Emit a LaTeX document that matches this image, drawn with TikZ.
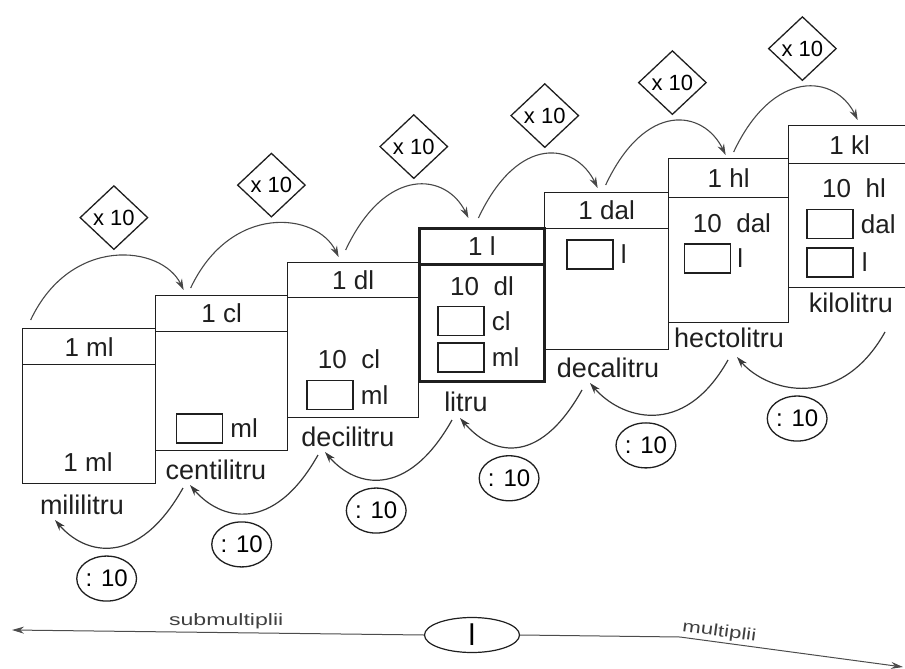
\documentclass[tikz,border=0pt]{standalone}
\usepackage{fontspec}
\setmainfont{Liberation Sans}
\usetikzlibrary{positioning,arrows.meta,shapes.geometric}
\colorlet{ink}{black!88}

\begin{document}
\begin{tikzpicture}[
    x=1pt, y=-1pt, % y grows downwards, as on the page
    unitbox/.style={draw=ink, line width=1.3pt, anchor=north west, inner sep=0pt},
    headbox/.style={unitbox, font=\fontsize{26}{30}\selectfont, text=ink},
    litbox/.style={line width=2.8pt},
    valtext/.style={font=\fontsize{26}{30}\selectfont, text=ink, inner sep=1pt},
    blankbox/.style={draw=ink, line width=1.3pt, minimum width=46pt, minimum height=29pt, inner sep=0pt},
    uname/.style={font=\fontsize{27}{30}\selectfont, text=ink, inner sep=2pt},
    timesbox/.style={diamond, draw=ink, line width=1.3pt, minimum width=68pt, minimum height=64pt, inner sep=0pt, fill=white, font=\fontsize{22}{26}\selectfont},
    divcirc/.style={ellipse, draw=ink, line width=1.3pt, minimum width=50pt, minimum height=45pt, inner sep=0pt, font=\fontsize{24}{28}\selectfont},
    mularrow/.style={draw=black!72, line width=1.1pt, -{Stealth[length=11pt, width=7pt]}},
    divarrow/.style={draw=black!78, line width=1.2pt, -{Stealth[length=11pt, width=7pt]}},
    scaleline/.style={draw=black!70, line width=1pt, -{Stealth[length=12pt, width=7pt]}},
    sidetext/.style={font=\fontsize{16.5}{18}\selectfont, text=black!75, inner sep=1pt}
]
\useasboundingbox (0,0) rectangle (905,669);

% mililitru
\node[unitbox, minimum width=133pt, minimum height=155pt] (ml) at (22,328) {};
\node[headbox, minimum width=133pt, minimum height=36pt] (mlh) at (ml.north west) {1 ml};
\node[valtext] (mlv) at (88,462) {1 ml};
\node[uname] (mln) at (82,505) {mililitru};

% centilitru
\node[unitbox, minimum width=132pt, minimum height=155pt] (cl) at (155,295) {};
\node[headbox, minimum width=132pt, minimum height=36pt] (clh) at (cl.north west) {1 cl};
\node[blankbox] (clb) at (199.5,428.5) {};
\node[valtext, right=6pt of clb] (clv) {ml};
\node[uname] (cln) at (216,470) {centilitru};

% decilitru
\node[unitbox, minimum width=131pt, minimum height=155pt] (dl) at (287,262) {};
\node[headbox, minimum width=131pt, minimum height=35pt] (dlh) at (dl.north west) {1 dl};
\node[valtext] (dlv) at (349,359) {10~~cl};
\node[blankbox] (dlb) at (330,395) {};
\node[valtext, right=6pt of dlb] (dlv2) {ml};
\node[uname] (dln) at (348,437) {decilitru};

% litru
\node[unitbox, litbox, minimum width=125pt, minimum height=153pt] (l) at (418,227) {};
\node[headbox, litbox, minimum width=125pt, minimum height=36pt] (lh) at (l.north west) {1 l};
\node[valtext] (lv) at (482,286) {10~~dl};
\node[blankbox] (lb1) at (461,321) {};
\node[valtext, right=6pt of lb1] (lv1) {cl};
\node[blankbox] (lb2) at (461,357.5) {};
\node[valtext, right=6pt of lb2] (lv2) {ml};
\node[uname] (ln) at (466,402) {litru};

% decalitru
\node[unitbox, minimum width=124pt, minimum height=157pt] (dal) at (544,192) {};
\node[headbox, minimum width=124pt, minimum height=36pt] (dalh) at (dal.north west) {1 dal};
\node[blankbox] (dalb) at (590,254.5) {};
\node[valtext, right=6pt of dalb] (dalv) {l};
\node[uname] (daln) at (608,368) {decalitru};

% hectolitru
\node[unitbox, minimum width=120pt, minimum height=164pt] (hl) at (668,158) {};
\node[headbox, minimum width=120pt, minimum height=39pt] (hlh) at (hl.north west) {1 hl};
\node[valtext] (hlv) at (732,223) {10~~dal};
\node[blankbox] (hlb) at (707.5,258.5) {};
\node[valtext, right=5pt of hlb] (hlv2) {l};
\node[uname] (hln) at (729,338) {hectolitru};

% kilolitru
\node[unitbox, minimum width=122pt, minimum height=162pt] (kl) at (788,125) {};
\node[headbox, minimum width=122pt, minimum height=38pt] (klh) at (kl.north west) {1 kl};
\node[valtext] (klv) at (854,188) {10~~hl};
\node[blankbox] (klb1) at (830,224) {};
\node[valtext, right=6pt of klb1] (klv1) {dal};
\node[blankbox] (klb2) at (830,262.5) {};
\node[valtext, right=7pt of klb2] (klv2) {l};
\node[uname] (kln) at (851,303) {kilolitru};

% x 10 jumps
\draw[mularrow] ([shift={(-58.5,-8)}]mlh.north) .. controls +(40,-85) and +(-22,-45) .. ([shift={(-38,-5)}]clh.north)
    node[timesbox, pos=0.5, anchor=south, yshift=6pt] (t1) {x 10};
\draw[mularrow] ([shift={(-31,-7)}]clh.north) .. controls +(40,-85) and +(-22,-45) .. ([shift={(-14.5,-5)}]dlh.north)
    node[timesbox, pos=0.5, anchor=south, yshift=6pt] (t2) {x 10};
\draw[mularrow] ([shift={(-7.5,-12)}]dlh.north) .. controls +(40,-85) and +(-22,-45) .. ([shift={(-13.5,-9)}]lh.north)
    node[timesbox, pos=0.5, anchor=south, yshift=6pt] (t3) {x 10};
\draw[mularrow] ([shift={(-3.5,-9)}]lh.north) .. controls +(40,-85) and +(-22,-45) .. ([shift={(-9,-4)}]dalh.north)
    node[timesbox, pos=0.5, anchor=south, yshift=6pt] (t4) {x 10};
\draw[mularrow] ([shift={(-1,-7)}]dalh.north) .. controls +(40,-85) and +(-22,-45) .. ([shift={(-3,-3)}]hlh.north)
    node[timesbox, pos=0.5, anchor=south, yshift=6pt] (t5) {x 10};
\draw[mularrow] ([shift={(5,-6)}]hlh.north) .. controls +(40,-85) and +(-22,-45) .. ([shift={(8,-5)}]klh.north)
    node[timesbox, pos=0.5, anchor=south, yshift=6pt] (t6) {x 10};

% : 10 jumps
\draw[divarrow] ([shift={(-33,18)}]cln.center) .. controls +(-45,80) and +(30,35) .. ([shift={(-27,15)}]mln.center)
    node[divcirc, pos=0.55, anchor=north, yshift=-8pt] (d1) {: 10};
\draw[divarrow] ([shift={(-30,18)}]dln.center) .. controls +(-45,80) and +(30,35) .. ([shift={(-26,15)}]cln.center)
    node[divcirc, pos=0.55, anchor=north, yshift=-8pt] (d2) {: 10};
\draw[divarrow] ([shift={(-14,18)}]ln.center) .. controls +(-45,80) and +(30,35) .. ([shift={(-23,15)}]dln.center)
    node[divcirc, pos=0.55, anchor=north, yshift=-8pt] (d3) {: 10};
\draw[divarrow] ([shift={(-26,22)}]daln.center) .. controls +(-45,80) and +(30,35) .. ([shift={(-6,16)}]ln.center)
    node[divcirc, pos=0.55, anchor=north, yshift=-8pt] (d4) {: 10};
\draw[divarrow] ([shift={(-1,22)}]hln.center) .. controls +(-45,80) and +(30,35) .. ([shift={(-18,15)}]daln.center)
    node[divcirc, pos=0.55, anchor=north, yshift=-8pt] (d5) {: 10};
\draw[divarrow] ([shift={(34,29)}]kln.center) .. controls +(-45,80) and +(30,35) .. ([shift={(8,19)}]hln.center)
    node[divcirc, pos=0.55, anchor=north, yshift=-8pt] (d6) {: 10};

% scale
\node[ellipse, draw=ink, line width=1.2pt, minimum width=95pt, minimum height=35pt, inner sep=0pt,
      font=\fontsize{30}{32}\selectfont] (lit) at (472,635) {l};
\coordinate (subend) at (12,630);
\coordinate (bend) at (680,637);
\coordinate (mulend) at (903,667);
\draw[scaleline] (lit.west) -- (subend)
    node[sidetext, pos=0.48, above=2pt] (subl) {\scalebox{1.4}[1]{submultiplii}};
\draw[scaleline] (lit.east) -- (bend) -- (mulend)
    node[sidetext, pos=0.17, above=1pt, sloped] (mull) {\scalebox{1.35}[1]{multiplii}};
\end{tikzpicture}
\end{document}
